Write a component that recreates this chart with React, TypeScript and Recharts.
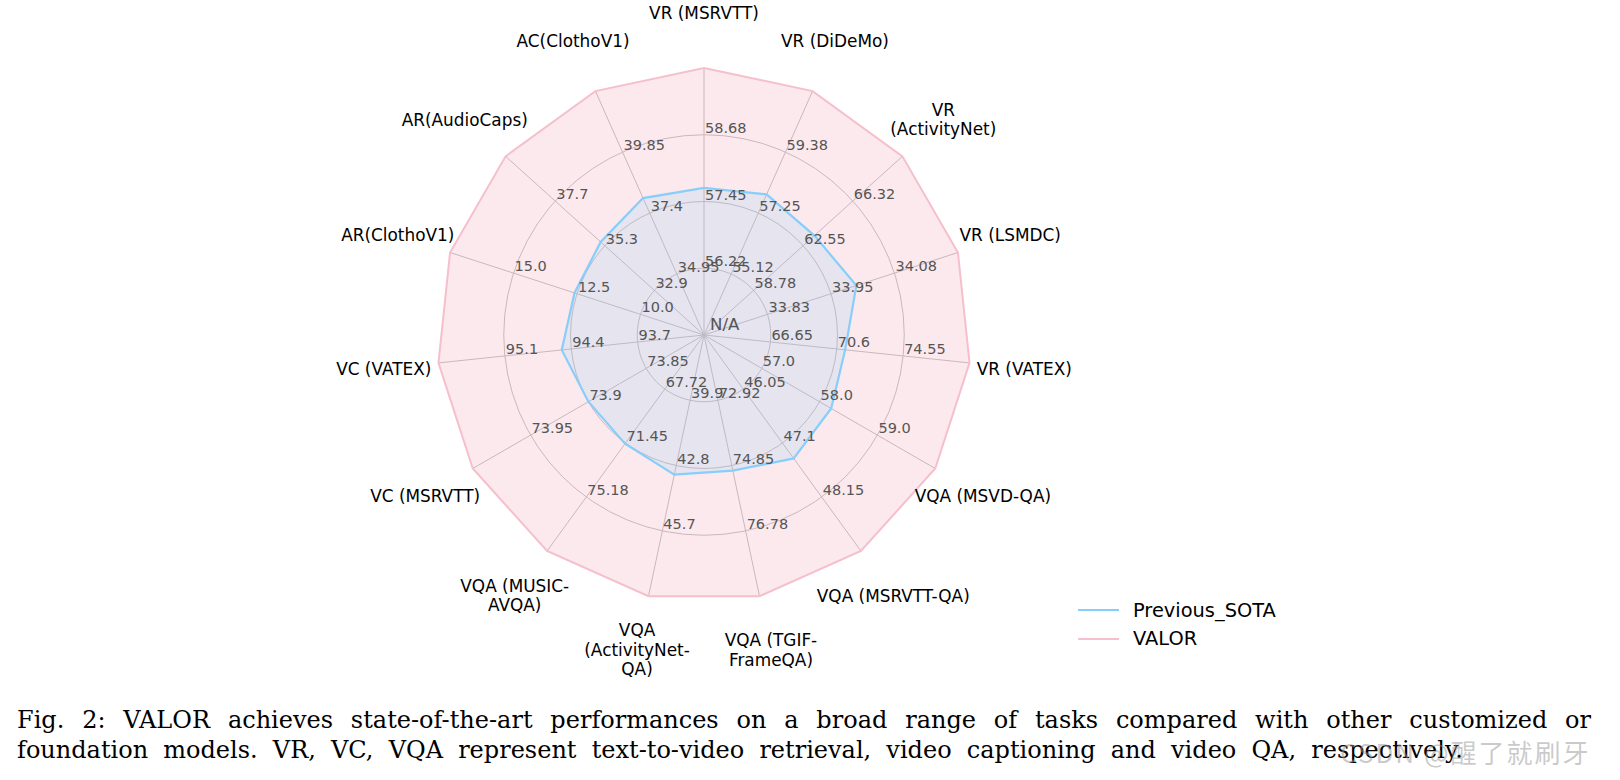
import React from 'react';
import { RadarChart, Radar, PolarGrid, PolarAngleAxis, PolarRadiusAxis, Legend, LabelList } from 'recharts';

const categories = [
  'VR (MSRVTT)', 'VR (DiDeMo)', 'VR\n(ActivityNet)', 'VR (LSMDC)', 'VR (VATEX)',
  'VQA (MSVD-QA)', 'VQA (MSRVTT-QA)', 'VQA (TGIF-\nFrameQA)', 'VQA\n(ActivityNet-\nQA)', 'VQA (MUSIC-\nAVQA)',
  'VC (MSRVTT)', 'VC (VATEX)', 'AR(ClothoV1)', 'AR(AudioCaps)', 'AC(ClothoV1)',
];

// value at the centre / at the rim of every spoke
const axisMin = [55.0, 53.0, 55.0, 33.7, 62.7, 56.0, 45.0, 71.0, 37.0, 64.0, 73.8, 93.0, 7.5, 30.5, 32.5];
const axisMax = [59.9, 61.5, 70.1, 34.2, 78.5, 60.0, 49.2, 78.7, 48.6, 78.9, 74.0, 95.8, 17.5, 40.1, 42.3];

const valorScores = [59.9, 61.5, 70.1, 34.2, 78.5, 60.0, 49.2, 78.7, 48.6, 78.9, 74.0, 95.8, 17.5, 40.1, 42.3];
const previousSotaScores = [57.7, 57.9, 63.4, 34.0, 71.1, 58.2, 47.4, 75.0, 43.2, 71.5, 73.9, 94.5, 12.6, 35.5, 38.0];

// the three inner rings, and the tick text printed on each spoke
const ringLevels = [0.25, 0.5, 0.75];
const ringLabels = [
  ['56.22', '57.45', '58.68'],
  ['55.12', '57.25', '59.38'],
  ['58.78', '62.55', '66.32'],
  ['33.83', '33.95', '34.08'],
  ['66.65', '70.6', '74.55'],
  ['57.0', '58.0', '59.0'],
  ['46.05', '47.1', '48.15'],
  ['72.92', '74.85', '76.78'],
  ['39.9', '42.8', '45.7'],
  ['67.72', '71.45', '75.18'],
  ['73.85', '73.9', '73.95'],
  ['93.7', '94.4', '95.1'],
  ['10.0', '12.5', '15.0'],
  ['32.9', '35.3', '37.7'],
  ['34.95', '37.4', '39.85'],
];

const CX = 704;
const CY = 335;
const R = 267;
const LABEL_R = 322;
const STEP = 360 / categories.length;

const norm = (v: number, i: number) => (v - axisMin[i]) / (axisMax[i] - axisMin[i]);

const data = categories.map((c, i) => {
  const row: any = {
    axis: c,
    valor: norm(valorScores[i], i),
    prev: norm(previousSotaScores[i], i),
  };
  ringLevels.forEach((lv, k) => {
    row[`ring${k}`] = lv;
    row[`ringText${k}`] = ringLabels[i][k];
  });
  return row;
});

const sans = 'DejaVu Sans, sans-serif';

const AngleTick = (props: any) => {
  const { index } = props;
  const a = ((90 - STEP * index) * Math.PI) / 180;
  const x = CX + LABEL_R * Math.cos(a);
  const y = CY - LABEL_R * Math.sin(a);
  const lines = categories[index].split('\n');
  const lh = 19.5;
  return (
    <text x={x} y={y} textAnchor="middle" dominantBaseline="central" fontSize={16.9} fontFamily={sans} fill="#000">
      {lines.map((l, k) => (
        <tspan key={k} x={x} dy={k === 0 ? (-(lines.length - 1) * lh) / 2 : lh}>{l}</tspan>
      ))}
    </text>
  );
};

const CentreTick = (props: any) => {
  const { x, y, payload } = props;
  if (payload.value !== 0) return <g />;
  return (
    <text x={x + 6} y={y - 5} fontSize={16.6} fontFamily={sans} fill="#555">N/A</text>
  );
};

const RingText = (props: any) => {
  const x = props.x ?? props.viewBox?.x;
  const y = props.y ?? props.viewBox?.y;
  if (x == null || y == null) return null;
  return (
    <text x={x + 1} y={y - 2} fontSize={14.5} fontFamily={sans} fill="#555">{props.value}</text>
  );
};

const renderLegend = (props: any) => {
  const items = [...(props.payload || [])]
    .filter((it: any) => it.value === 'VALOR' || it.value === 'Previous_SOTA')
    .sort((a: any, b: any) => String(a.value).localeCompare(String(b.value)));
  return (
    <div style={{ fontFamily: sans, fontSize: 19.4, color: '#000' }}>
      {items.map((it: any) => (
        <div key={it.value} style={{ display: 'flex', alignItems: 'center', height: 28.6 }}>
          <svg width={55} height={6}>
            <line x1={0} x2={41} y1={3} y2={3} stroke={it.color} strokeWidth={2.2} />
          </svg>
          <span>{it.value}</span>
        </div>
      ))}
    </div>
  );
};

export default function App() {
  return (
    <div style={{ position: 'absolute', left: 0, top: 0, width: 1620, height: 780, background: '#fff', overflow: 'hidden' }}>
      <div style={{ position: 'absolute', left: 0, top: 0 }}>
        <RadarChart
          width={1620}
          height={690}
          data={data}
          cx={CX}
          cy={CY}
          outerRadius={R}
          startAngle={90}
          endAngle={-270}
          margin={{ top: 0, right: 0, bottom: 0, left: 0 }}
        >
          <PolarGrid gridType="circle" polarRadius={ringLevels.map((l) => l * R)} stroke="#bdbdbd" strokeWidth={1} />
          <PolarAngleAxis dataKey="axis" tick={AngleTick} tickLine={false} axisLine={false} />
          <PolarRadiusAxis angle={90} domain={[0, 1]} type="number" ticks={[0]} tick={CentreTick} axisLine={false} />
          <Radar
            name="VALOR"
            dataKey="valor"
            stroke="#f5bfcc"
            strokeWidth={2}
            fill="#f2a7b8"
            fillOpacity={0.25}
            isAnimationActive={false}
          />
          <Radar
            name="Previous_SOTA"
            dataKey="prev"
            stroke="#87CEFA"
            strokeWidth={2.2}
            fill="#87CEFA"
            fillOpacity={0.18}
            isAnimationActive={false}
          />
          {ringLevels.map((_, k) => (
            <Radar
              key={k}
              name={`ring${k}`}
              dataKey={`ring${k}`}
              stroke="none"
              fill="none"
              legendType="none"
              isAnimationActive={false}
            >
              <LabelList dataKey={`ringText${k}`} content={RingText} />
            </Radar>
          ))}
          <Legend content={renderLegend} wrapperStyle={{ position: 'absolute', left: 1078, top: 596, width: 260 }} />
        </RadarChart>
      </div>
      <div
        style={{
          position: 'absolute', left: 17, top: 705, width: 1574, fontFamily: 'DejaVu Serif, serif', fontSize: 24,
          lineHeight: '30px', textAlign: 'justify', textAlignLast: 'justify', color: '#000',
        }}
      >
        Fig. 2: VALOR achieves state-of-the-art performances on a broad range of tasks compared with other customized or
      </div>
      <div
        style={{
          position: 'absolute', left: 17, top: 735, width: 1446, fontFamily: 'DejaVu Serif, serif', fontSize: 24,
          lineHeight: '30px', textAlign: 'justify', textAlignLast: 'justify', color: '#000',
        }}
      >
        foundation models. VR, VC, VQA represent text-to-video retrieval, video captioning and video QA, respectively.
      </div>
      <div
        style={{
          position: 'absolute', left: 1340, top: 733, fontFamily: '"Noto Sans CJK SC", sans-serif', fontSize: 26,
          letterSpacing: 2, color: 'rgba(150,150,150,0.5)', whiteSpace: 'nowrap',
        }}
      >
        CSDN @醒了就刷牙
      </div>
    </div>
  );
}
